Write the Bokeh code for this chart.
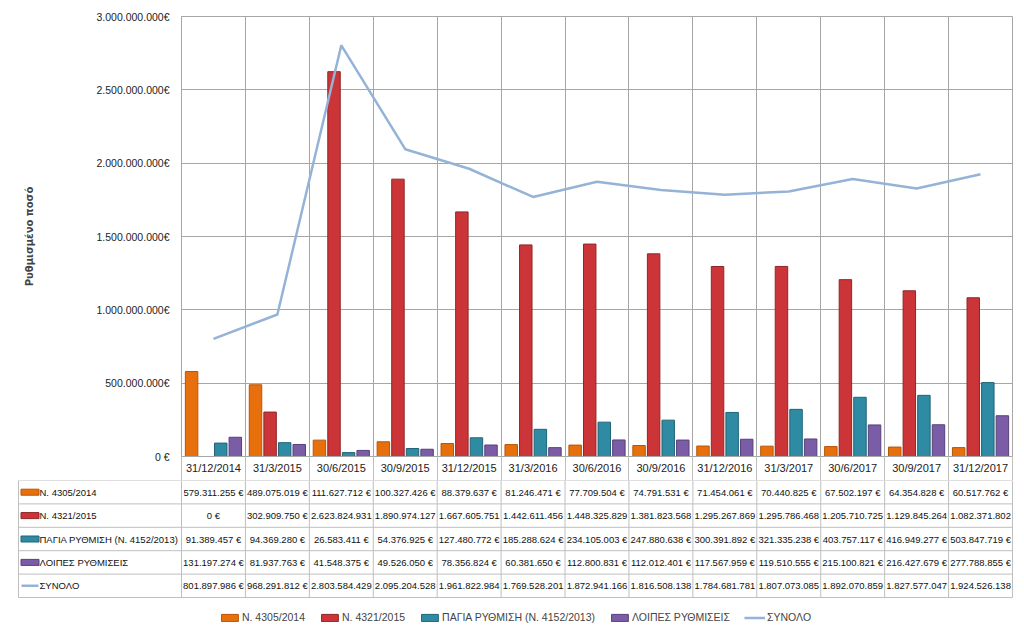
from bokeh.plotting import figure
from bokeh.layouts import column
from bokeh.models import Range1d, FixedTicker, ColumnDataSource, Legend, LegendItem
from bokeh.embed import file_html
from bokeh.resources import INLINE
from bokeh.core.properties import value

# ---------------- data ----------------
categories = ["31/12/2014", "31/3/2015", "30/6/2015", "30/9/2015", "31/12/2015", "31/3/2016",
              "30/6/2016", "30/9/2016", "31/12/2016", "31/3/2017", "30/6/2017", "30/9/2017", "31/12/2017"]
series_names = ["Ν. 4305/2014", "Ν. 4321/2015", "ΠΑΓΙΑ ΡΥΘΜΙΣΗ (Ν. 4152/2013)", "ΛΟΙΠΕΣ ΡΥΘΜΙΣΕΙΣ", "ΣΥΝΟΛΟ"]
n4305 = [579311255, 489075019, 111627712, 100327426, 88379637, 81246471, 77709504,
         74791531, 71454061, 70440825, 67502197, 64354828, 60517762]
n4321 = [0, 302909750, 2623824931, 1890974127, 1667605751, 1442611456, 1448325829,
         1381823568, 1295267869, 1295786468, 1205710725, 1129845264, 1082371802]
pagia = [91389457, 94369280, 26583411, 54376925, 127480772, 185288624, 234105003,
         247880638, 300391892, 321335238, 403757117, 416949277, 503847719]
loipes = [131197274, 81937763, 41548375, 49526050, 78356824, 60381650, 112800831,
          112012401, 117567959, 119510555, 215100821, 216427679, 277788855]
synolo = [801897986, 968291812, 2803584429, 2095204528, 1961822984, 1769528201, 1872941166,
          1816508138, 1784681781, 1807073085, 1892070859, 1827577047, 1924526138]
y_ticks = [0, 500000000, 1000000000, 1500000000, 2000000000, 2500000000, 3000000000]
y_tick_labels = ["0 €", "500.000.000€", "1.000.000.000€", "1.500.000.000€",
                 "2.000.000.000€", "2.500.000.000€", "3.000.000.000€"]
y_title = "Ρυθμισμένο ποσό"

# ---------------- style ----------------
FONT = "Liberation Sans"
bar_colors = ["#E8700C", "#CC3537", "#2E8BA3", "#7B5CA6"]
bar_lines = ["#B85408", "#8E2628", "#1F6577", "#57407A"]
line_color = "#95B3D7"
grid_color = "#A6A6A6"
table_color = "#BFBFBF"

n = len(categories)
centers = [i + 0.5 for i in range(n)]
offsets = [-0.342, -0.114, 0.114, 0.342]
bar_series = [n4305, n4321, pagia, loipes]

# ---------------- main chart ----------------
p = figure(frame_width=831, frame_height=440,
           x_range=Range1d(0, n), y_range=Range1d(0, 3000000000),
           output_backend="svg", toolbar_location=None,
           min_border_left=181, min_border_right=12, min_border_top=16, min_border_bottom=24)
p.outline_line_color = grid_color
p.background_fill_color = "white"

for vals, off, fc, lc in zip(bar_series, offsets, bar_colors, bar_lines):
    src = ColumnDataSource(dict(x=[c + off for c in centers], top=vals))
    p.vbar(x="x", top="top", width=0.195, source=src, fill_color=fc, line_color=lc, line_width=1)

p.line(x=centers, y=synolo, line_color=line_color, line_width=2.5)

p.yaxis.ticker = FixedTicker(ticks=y_ticks)
p.yaxis.major_label_overrides = {t: l for t, l in zip(y_ticks, y_tick_labels)}
p.yaxis.major_label_text_font = FONT
p.yaxis.major_label_text_font_size = "10.5px"
p.yaxis.major_label_text_color = "#222222"
p.yaxis.major_tick_line_color = None
p.yaxis.minor_tick_line_color = None
p.yaxis.axis_line_color = grid_color
p.yaxis.major_label_standoff = 6
p.yaxis.axis_label = y_title
p.yaxis.axis_label_text_font = "DejaVu Sans"
p.yaxis.axis_label_text_font_style = "bold"
p.yaxis.axis_label_text_font_size = "10px"
p.yaxis.axis_label_standoff = 59

p.xaxis.ticker = FixedTicker(ticks=centers, minor_ticks=list(range(n + 1)))
p.xaxis.major_label_overrides = {c: cat for c, cat in zip(centers, categories)}
p.xaxis.major_label_text_font = FONT
p.xaxis.major_label_text_font_size = "11px"
p.xaxis.major_label_text_color = "#222222"
p.xaxis.major_tick_line_color = None
p.xaxis.major_tick_out = 0
p.xaxis.major_tick_in = 0
p.xaxis.minor_tick_out = 24
p.xaxis.minor_tick_in = 0
p.xaxis.minor_tick_line_color = table_color
p.xaxis.axis_line_color = grid_color
p.xaxis.major_label_standoff = -19

p.ygrid.ticker = FixedTicker(ticks=y_ticks)
p.ygrid.grid_line_color = grid_color
p.xgrid.ticker = FixedTicker(ticks=list(range(n + 1)))
p.xgrid.grid_line_color = grid_color

# ---------------- data table + legend ----------------
colw = 63.92
left = -163 / colw
row_h = 117 / 5
t = figure(frame_width=996, frame_height=157,
           x_range=Range1d(left - 1 / colw, n + 1 / colw),
           y_range=Range1d(5 + 40 / row_h, 0),
           output_backend="svg", toolbar_location=None,
           min_border_left=17, min_border_right=11, min_border_top=0, min_border_bottom=0)
t.xaxis.visible = False
t.yaxis.visible = False
t.xgrid.visible = False
t.ygrid.visible = False
t.outline_line_color = None

# table lines
t.segment(x0=[left] * 6, x1=[n] * 6, y0=[0, 1, 2, 3, 4, 5], y1=[0, 1, 2, 3, 4, 5],
          line_color=table_color, line_width=1)
t.segment(x0=[left] + list(range(n + 1)), x1=[left] + list(range(n + 1)),
          y0=[0] * (n + 2), y1=[5] * (n + 2), line_color=table_color, line_width=1)


def fmt(v):
    s = f"{v:,}".replace(",", ".")
    return s if v >= 1000000000 else s + " €"


all_rows = [n4305, n4321, pagia, loipes, synolo]
cx, cy, ct = [], [], []
for r, vals in enumerate(all_rows):
    for i, v in enumerate(vals):
        cx.append(centers[i])
        cy.append(r + 0.5)
        ct.append(fmt(v))
t.text(x="x", y="y", text="t", source=ColumnDataSource(dict(x=cx, y=cy, t=ct)),
       text_font=value(FONT), text_font_size="9.5px", text_align="center",
       text_baseline="middle", text_color="#111111")

# row labels
lab_x = left + 21 / colw
t.text(x=[lab_x] * 5, y=[r + 0.5 for r in range(5)], text=series_names,
       text_font=value(FONT), text_font_size="9.5px", text_align="left",
       text_baseline="middle", text_color="#111111")

# swatches (quads, in table units)
sw_l = left + 2.5 / colw
sw_r = left + 20.5 / colw
hh = 3 / row_h
sw = t.quad(left=[sw_l] * 4, right=[sw_r] * 4,
            bottom=[r + 0.5 + hh for r in range(4)], top=[r + 0.5 - hh for r in range(4)],
            fill_color=bar_colors, line_color=bar_lines)
ln = t.segment(x0=[left + 3 / colw], x1=[lab_x - 1 / colw], y0=[4.5], y1=[4.5],
               line_color=line_color, line_width=2.5)

items = [LegendItem(label=series_names[k], renderers=[sw], index=k) for k in range(4)]
items.append(LegendItem(label=series_names[4], renderers=[ln]))
legend = Legend(items=items, orientation="horizontal", location="bottom_center",
                glyph_width=21, glyph_height=9, label_standoff=2, spacing=14,
                label_text_font=FONT, label_text_font_size="10.5px",
                label_height=9,
                border_line_color=None, background_fill_alpha=0,
                padding=0, margin=14)
t.add_layout(legend)

layout = column(p, column(t), spacing=0)
open("out.html", "w").write(file_html(layout, INLINE))
